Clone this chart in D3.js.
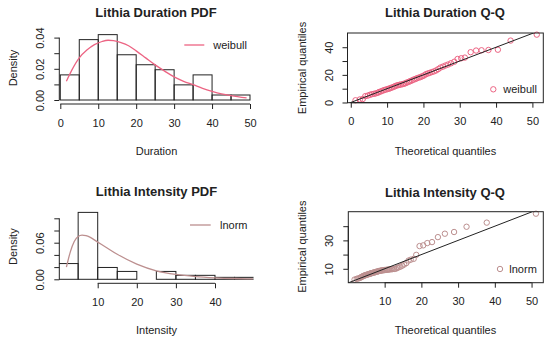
<!DOCTYPE html>
<html>
<head>
<meta charset="utf-8">
<script src="https://cdn.jsdelivr.net/npm/d3@7"></script>
<style>
  body { margin: 0; background: #fff; }
  text { font-family: "Liberation Sans", Arial, sans-serif; fill: #222; }
</style>
</head>
<body>
<div id="chart"></div>
<script>
// ---- data ----
var breaks = [0, 5, 10, 15, 20, 25, 30, 35, 40, 45, 50];

// Duration histogram (density per bin) and fitted weibull curve
var durDensity = [0.0161, 0.0387, 0.0419, 0.0290, 0.0226, 0.0194, 0.0097, 0.0161, 0.0032, 0.0032];
var durFitX = [1.6, 3, 5, 7, 9, 11, 12.6, 14, 16, 18, 20, 22.5, 25, 27.5, 30, 32.5, 35, 37.5, 40, 42.5, 45, 49.1];
var durFitY = [0.012, 0.019, 0.027, 0.032, 0.0355, 0.0375, 0.0383, 0.038, 0.0368, 0.0348, 0.0315, 0.027,
               0.0225, 0.0185, 0.0148, 0.012, 0.0098, 0.0075, 0.0056, 0.004, 0.0028, 0.0013];

// Duration Q-Q (theoretical vs empirical)
var durTheo = [1.3, 2.5, 3.3, 4.0, 4.7, 5.3, 5.8, 6.4, 6.9, 7.4, 7.8, 8.3, 8.7, 9.2, 9.6,
               10.1, 10.5, 10.9, 11.3, 11.8, 12.2, 12.6, 13.0, 13.4, 13.8, 14.3, 14.7, 15.1, 15.5, 16.0,
               16.4, 16.9, 17.3, 17.8, 18.2, 18.7, 19.2, 19.7, 20.2, 20.7, 21.2, 21.7, 22.3, 22.9, 23.5,
               24.1, 24.7, 25.4, 26.1, 26.8, 27.6, 28.5, 29.4, 30.4, 31.4, 33.0, 34.5, 36.0, 37.9, 40.5,
               44.0, 51.2];
var durEmp = [1.6, 2.2, 2.5, 4.6, 5.0, 5.6, 6.0, 6.3, 6.6, 7.0, 7.6, 8.0, 8.5, 9.0, 9.3,
              9.7, 10.0, 10.4, 10.8, 11.3, 11.8, 12.3, 12.5, 12.8, 13.0, 13.3, 13.6, 14.0, 14.5, 15.0,
              15.5, 16.0, 16.6, 17.0, 17.5, 18.0, 18.4, 19.0, 19.6, 20.5, 21.0, 21.4, 22.0, 22.5, 23.2,
              24.2, 25.3, 26.0, 26.8, 27.5, 28.4, 29.5, 31.5, 32.0, 32.5, 36.4, 37.6, 37.8, 38.0, 38.2,
              44.8, 49.1];

// Intensity histogram and fitted lnorm curve
var intDensity = [0.0258, 0.1097, 0.0194, 0.0129, 0, 0.0129, 0.0065, 0.0065, 0.0032, 0.0032];
var intFitX = [2, 3, 4, 5, 6, 7, 8, 10, 12, 15, 20, 25, 30, 35, 40, 45, 49.7];
var intFitY = [0.020, 0.045, 0.062, 0.070, 0.0725, 0.0715, 0.069, 0.061, 0.053, 0.041, 0.025,
               0.014, 0.008, 0.0045, 0.0025, 0.0013, 0.0007];

// Intensity Q-Q
var intTheo = [1.8, 2.4, 2.8, 3.2, 3.5, 3.7, 4.0, 4.2, 4.5, 4.7, 4.9, 5.1, 5.4, 5.6, 5.8,
               6.0, 6.2, 6.4, 6.6, 6.8, 7.1, 7.3, 7.5, 7.7, 8.0, 8.2, 8.4, 8.7, 8.9, 9.2,
               9.4, 9.7, 10.0, 10.3, 10.6, 10.9, 11.2, 11.5, 11.9, 12.2, 12.6, 13.0, 13.4, 13.8, 14.3,
               14.8, 15.3, 15.9, 16.5, 17.1, 17.9, 18.6, 19.5, 20.5, 21.6, 22.9, 24.5, 26.4, 28.9, 32.3,
               37.8, 51.2];
var intEmp = [2.4, 2.9, 3.2, 3.5, 3.9, 4.3, 4.6, 5.0, 5.2, 5.4, 5.6, 5.8, 6.0, 6.2, 6.4,
              6.5, 6.7, 6.9, 7.0, 7.2, 7.4, 7.5, 7.7, 7.9, 8.0, 8.2, 8.4, 8.5, 8.7, 8.8,
              8.9, 9.0, 9.1, 9.2, 9.3, 9.4, 9.5, 9.6, 9.7, 9.8, 9.9, 10.0, 10.6, 11.0, 11.5,
              12.2, 13.0, 14.0, 15.8, 16.4, 17.0, 19.8, 26.0, 26.5, 28.1, 28.8, 32.3, 34.7, 35.9, 39.6,
              42.5, 48.8];

// tick values and labels
var durPdfXTicks = [0, 10, 20, 30, 40, 50];
var durPdfYTicks = [0, 0.01, 0.02, 0.03, 0.04];
var durPdfYLabels = ["0.00", "", "0.02", "", "0.04"];
var intPdfXTicks = [10, 20, 30, 40];
var intPdfYTicks = [0, 0.02, 0.04, 0.06, 0.08, 0.10];
var intPdfYLabels = ["0.00", "", "", "0.06", "", ""];
var durQqXTicks = [0, 10, 20, 30, 40, 50];
var durQqYTicks = [0, 10, 20, 30, 40];
var durQqYLabels = ["0", "", "20", "", "40"];
var intQqXTicks = [10, 20, 30, 40, 50];
var intQqYTicks = [10, 20, 30, 40];
var intQqYLabels = ["10", "", "30", ""];

var weibullCol = "#ec6483";
var lnormCol = "#bc8f8f";

var svg = d3.select("#chart")
  .append("svg")
  .attr("width", 550)
  .attr("height", 340);

svg.append("rect").attr("width", 550).attr("height", 340).attr("fill", "#fff");

// R style axes: line from first to last tick, rotated y labels
function drawXAxis(x, yPos, ticks, labels) {
  var g = svg.append("g").attr("transform", `translate(0, ${yPos})`);
  g.call(d3.axisBottom(x).tickValues(ticks).tickSize(5).tickPadding(10)
    .tickFormat(function(d, i) { return labels ? labels[i] : d; }));
  g.select(".domain").remove();
  g.append("line")
    .attr("x1", x(ticks[0])).attr("x2", x(ticks[ticks.length - 1]))
    .attr("stroke", "#222");
  g.selectAll(".tick line").attr("stroke", "#222");
  g.selectAll("text").attr("font-size", 11).attr("font-family", null).attr("fill", "#222");
}

function drawYAxis(y, xPos, ticks, labels) {
  var g = svg.append("g").attr("transform", `translate(${xPos}, 0)`);
  g.call(d3.axisLeft(y).tickValues(ticks).tickSize(5)
    .tickFormat(function(d, i) { return labels[i]; }));
  g.select(".domain").remove();
  g.append("line")
    .attr("y1", y(ticks[0])).attr("y2", y(ticks[ticks.length - 1]))
    .attr("stroke", "#222");
  g.selectAll(".tick line").attr("stroke", "#222");
  g.selectAll("text")
    .attr("font-size", 11).attr("font-family", null).attr("fill", "#222")
    .attr("transform", "rotate(-90)")
    .attr("x", 0).attr("y", -15).attr("dy", null)
    .attr("text-anchor", "middle");
}

function title(txt, cx, baseline) {
  svg.append("text").attr("x", cx).attr("y", baseline)
    .attr("text-anchor", "middle").attr("font-size", 13).attr("font-weight", "bold")
    .text(txt);
}

function xTitle(txt, cx, baseline) {
  svg.append("text").attr("x", cx).attr("y", baseline)
    .attr("text-anchor", "middle").attr("font-size", 11).text(txt);
}

function yTitle(txt, bx, cy) {
  svg.append("text")
    .attr("transform", `translate(${bx}, ${cy}) rotate(-90)`)
    .attr("text-anchor", "middle").attr("font-size", 11).text(txt);
}

var line = d3.line().curve(d3.curveMonotoneX);

// ---------- Duration PDF ----------
var x1 = d3.scaleLinear().domain([0, 50]).range([60.3, 250]);
var y1 = d3.scaleLinear().domain([0, 0.04]).range([100, 37.6]);

svg.append("g").selectAll("rect")
  .data(durDensity)
  .enter()
  .append("rect")
  .attr("x", (d, i) => x1(breaks[i]))
  .attr("width", (d, i) => x1(breaks[i + 1]) - x1(breaks[i]))
  .attr("y", d => y1(d))
  .attr("height", d => y1(0) - y1(d))
  .attr("fill", "none")
  .attr("stroke", "#222");

svg.append("path")
  .attr("d", line(durFitX.map((v, i) => [x1(v), y1(durFitY[i])])))
  .attr("fill", "none").attr("stroke", weibullCol).attr("stroke-width", 1.3);

drawXAxis(x1, 104, durPdfXTicks);
drawYAxis(y1, 59.3, durPdfYTicks, durPdfYLabels);
title("Lithia Duration PDF", 156, 17.4);
xTitle("Duration", 156.5, 155);
yTitle("Density", 16.7, 68);

svg.append("line").attr("x1", 184.3).attr("x2", 204.3).attr("y1", 45).attr("y2", 45)
  .attr("stroke", weibullCol).attr("stroke-width", 1.3);
svg.append("text").attr("x", 213.3).attr("y", 49).attr("font-size", 11).text("weibull");

// ---------- Duration Q-Q ----------
var x2 = d3.scaleLinear().domain([-0.9, 53.0]).range([347.5, 543.3]);
var y2 = d3.scaleLinear().domain([-0.15, 50.3]).range([102.7, 33]);

svg.append("clipPath").attr("id", "clipDur")
  .append("rect").attr("x", 347.5).attr("y", 33).attr("width", 195.8).attr("height", 69.7);

svg.append("g").selectAll("circle")
  .data(durTheo)
  .enter()
  .append("circle")
  .attr("cx", d => x2(d))
  .attr("cy", (d, i) => y2(durEmp[i]))
  .attr("r", 2.7)
  .attr("fill", "none")
  .attr("stroke", weibullCol);

svg.append("line")
  .attr("clip-path", "url(#clipDur)")
  .attr("x1", x2(-1)).attr("y1", y2(-1))
  .attr("x2", x2(60)).attr("y2", y2(60))
  .attr("stroke", "#222");

svg.append("rect").attr("x", 347.5).attr("y", 33).attr("width", 195.8).attr("height", 69.7)
  .attr("fill", "none").attr("stroke", "#222");

drawXAxis(x2, 102.7, durQqXTicks);
drawYAxis(y2, 347.5, durQqYTicks, durQqYLabels);
title("Lithia Duration Q-Q", 445, 17.4);
xTitle("Theoretical quantiles", 445.5, 155);
yTitle("Empirical quantiles", 306.3, 68);

svg.append("circle").attr("cx", 493.3).attr("cy", 89.3).attr("r", 2.7)
  .attr("fill", "none").attr("stroke", weibullCol);
svg.append("text").attr("x", 503.3).attr("y", 93.3).attr("font-size", 11).text("weibull");

// ---------- Intensity PDF ----------
var x3 = d3.scaleLinear().domain([0, 50]).range([58.6, 254.1]);
var y3 = d3.scaleLinear().domain([0, 0.10]).range([279.3, 218.3]);

svg.append("clipPath").attr("id", "clipInt")
  .append("rect").attr("x", 59).attr("y", 200).attr("width", 194.5).attr("height", 85);

var intG = svg.append("g").attr("clip-path", "url(#clipInt)");

intG.selectAll("rect")
  .data(intDensity)
  .enter()
  .append("rect")
  .attr("x", (d, i) => x3(breaks[i]))
  .attr("width", (d, i) => x3(breaks[i + 1]) - x3(breaks[i]))
  .attr("y", d => y3(d))
  .attr("height", d => y3(0) - y3(d))
  .attr("fill", "none")
  .attr("stroke", "#222");

intG.append("path")
  .attr("d", line(intFitX.map((v, i) => [x3(v), y3(intFitY[i])])))
  .attr("fill", "none").attr("stroke", lnormCol).attr("stroke-width", 1.3);

drawXAxis(x3, 283.3, intPdfXTicks);
drawYAxis(y3, 59.3, intPdfYTicks, intPdfYLabels);
title("Lithia Intensity PDF", 156.5, 196.4);
xTitle("Intensity", 156.5, 334);
yTitle("Density", 16.7, 246.7);

svg.append("line").attr("x1", 190).attr("x2", 210.7).attr("y1", 225).attr("y2", 225)
  .attr("stroke", lnormCol).attr("stroke-width", 1.3);
svg.append("text").attr("x", 220).attr("y", 229).attr("font-size", 11).text("lnorm");

// ---------- Intensity Q-Q ----------
var x4 = d3.scaleLinear().domain([0.1, 53.2]).range([348.3, 543.3]);
var y4 = d3.scaleLinear().domain([0.2, 50.2]).range([282.7, 211.7]);

svg.append("clipPath").attr("id", "clipIntQ")
  .append("rect").attr("x", 348.3).attr("y", 211.7).attr("width", 195).attr("height", 71);

svg.append("g").selectAll("circle")
  .data(intTheo)
  .enter()
  .append("circle")
  .attr("cx", d => x4(d))
  .attr("cy", (d, i) => y4(intEmp[i]))
  .attr("r", 2.7)
  .attr("fill", "none")
  .attr("stroke", lnormCol);

svg.append("line")
  .attr("clip-path", "url(#clipIntQ)")
  .attr("x1", x4(-1)).attr("y1", y4(-1))
  .attr("x2", x4(60)).attr("y2", y4(60))
  .attr("stroke", "#222");

svg.append("rect").attr("x", 348.3).attr("y", 211.7).attr("width", 195).attr("height", 71)
  .attr("fill", "none").attr("stroke", "#222");

drawXAxis(x4, 282.7, intQqXTicks);
drawYAxis(y4, 348.3, intQqYTicks, intQqYLabels);
title("Lithia Intensity Q-Q", 445, 197.4);
xTitle("Theoretical quantiles", 445.5, 334);
yTitle("Empirical quantiles", 306.3, 246.7);

svg.append("circle").attr("cx", 500).attr("cy", 269).attr("r", 2.7)
  .attr("fill", "none").attr("stroke", lnormCol);
svg.append("text").attr("x", 509.3).attr("y", 273).attr("font-size", 11).text("lnorm");
</script>
</body>
</html>
